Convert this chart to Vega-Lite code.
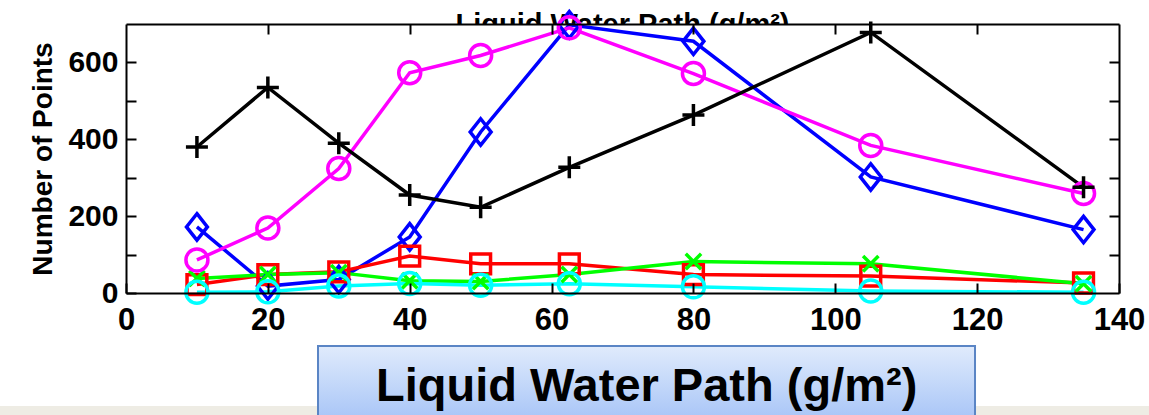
{
  "$schema": "https://vega.github.io/schema/vega-lite/v6.json",
  "autosize": {"type": "none"},
  "width": 993,
  "height": 269,
  "padding": {"left": 126, "top": 24, "right": 30, "bottom": 122},
  "background": "white",
  "view": {"stroke": null},
  "data": {
    "values": [
      {"lwp": 10, "count": 172, "series": "blue"},
      {"lwp": 20, "count": 18, "series": "blue"},
      {"lwp": 30, "count": 35, "series": "blue"},
      {"lwp": 40, "count": 146, "series": "blue"},
      {"lwp": 50, "count": 419, "series": "blue"},
      {"lwp": 62.5, "count": 698, "series": "blue"},
      {"lwp": 80, "count": 655, "series": "blue"},
      {"lwp": 105, "count": 302, "series": "blue"},
      {"lwp": 135, "count": 165, "series": "blue"},
      {"lwp": 10, "count": 22, "series": "red"},
      {"lwp": 20, "count": 48, "series": "red"},
      {"lwp": 30, "count": 55, "series": "red"},
      {"lwp": 40, "count": 96, "series": "red"},
      {"lwp": 50, "count": 76, "series": "red"},
      {"lwp": 62.5, "count": 76, "series": "red"},
      {"lwp": 80, "count": 48, "series": "red"},
      {"lwp": 105, "count": 44, "series": "red"},
      {"lwp": 135, "count": 26, "series": "red"},
      {"lwp": 10, "count": 38, "series": "green"},
      {"lwp": 20, "count": 48, "series": "green"},
      {"lwp": 30, "count": 53, "series": "green"},
      {"lwp": 40, "count": 32, "series": "green"},
      {"lwp": 50, "count": 30, "series": "green"},
      {"lwp": 62.5, "count": 48, "series": "green"},
      {"lwp": 80, "count": 82, "series": "green"},
      {"lwp": 105, "count": 76, "series": "green"},
      {"lwp": 135, "count": 24, "series": "green"},
      {"lwp": 10, "count": 2, "series": "cyan"},
      {"lwp": 20, "count": 3, "series": "cyan"},
      {"lwp": 30, "count": 18, "series": "cyan"},
      {"lwp": 40, "count": 25, "series": "cyan"},
      {"lwp": 50, "count": 20, "series": "cyan"},
      {"lwp": 62.5, "count": 24, "series": "cyan"},
      {"lwp": 80, "count": 16, "series": "cyan"},
      {"lwp": 105, "count": 5, "series": "cyan"},
      {"lwp": 135, "count": 2, "series": "cyan"},
      {"lwp": 10, "count": 86, "series": "magenta"},
      {"lwp": 20, "count": 169, "series": "magenta"},
      {"lwp": 30, "count": 324, "series": "magenta"},
      {"lwp": 40, "count": 573, "series": "magenta"},
      {"lwp": 50, "count": 618, "series": "magenta"},
      {"lwp": 62.5, "count": 690, "series": "magenta"},
      {"lwp": 80, "count": 571, "series": "magenta"},
      {"lwp": 105, "count": 384, "series": "magenta"},
      {"lwp": 135, "count": 259, "series": "magenta"},
      {"lwp": 10, "count": 380, "series": "black"},
      {"lwp": 20, "count": 535, "series": "black"},
      {"lwp": 30, "count": 390, "series": "black"},
      {"lwp": 40, "count": 255, "series": "black"},
      {"lwp": 50, "count": 223, "series": "black"},
      {"lwp": 62.5, "count": 327, "series": "black"},
      {"lwp": 80, "count": 463, "series": "black"},
      {"lwp": 105, "count": 678, "series": "black"},
      {"lwp": 135, "count": 275, "series": "black"}
    ]
  },
  "layer": [
    {
      "data": {"values": [{}]},
      "mark": {"type": "text", "text": "Liquid Water Path (g/m²)", "font": "Liberation Sans", "fontWeight": "bold", "fontSize": 29, "baseline": "alphabetic", "align": "center", "color": "#000000"},
      "encoding": {
        "x": {"datum": 70, "type": "quantitative", "scale": {"domain": [0, 140], "nice": false, "zero": false}, "axis": null},
        "y": {"datum": 674, "type": "quantitative", "scale": {"domain": [0, 700], "nice": false, "zero": false}, "axis": null}
      }
    },
    {
      "data": {"values": [{}]},
      "mark": {"type": "rect", "fill": "white"},
      "encoding": {
        "x": {"datum": 0, "type": "quantitative", "axis": null},
        "x2": {"datum": 140},
        "y": {"datum": 0, "type": "quantitative", "axis": null},
        "y2": {"datum": 700}
      }
    },
    {
      "data": {"values": [{}]},
      "mark": {"type": "rect", "fill": "#eeece4"},
      "encoding": {
        "x": {"datum": -20, "type": "quantitative", "axis": null},
        "x2": {"datum": 146},
        "y": {"datum": -294, "type": "quantitative", "axis": null},
        "y2": {"datum": -340}
      }
    },
    {
      "data": {"values": [{}]},
      "mark": {"type": "rect", "stroke": "#5a85c5", "strokeWidth": 2, "fill": {"gradient": "linear", "x1": 0, "y1": 0, "x2": 0, "y2": 1, "stops": [{"offset": 0, "color": "#e0ebfc"}, {"offset": 1, "color": "#a8c5f7"}]}},
      "encoding": {
        "x": {"datum": 27.07, "type": "quantitative", "axis": null},
        "x2": {"datum": 119.7},
        "y": {"datum": -137.9, "type": "quantitative", "axis": null},
        "y2": {"datum": -330}
      }
    },
    {
      "data": {"values": [{}]},
      "mark": {"type": "text", "text": "Liquid Water Path (g/m²)", "font": "Liberation Sans", "fontWeight": "bold", "fontSize": 47, "baseline": "middle", "align": "center", "color": "#000000"},
      "encoding": {
        "x": {"datum": 73.4, "type": "quantitative", "axis": null},
        "y": {"datum": -245, "type": "quantitative", "axis": null}
      }
    },
    {
      "mark": {"type": "line", "strokeWidth": 3.5},
      "encoding": {
        "x": {
          "field": "lwp", "type": "quantitative",
          "axis": {"orient": "bottom", "values": [0, 20, 40, 60, 80, 100, 120, 140], "title": null, "zindex": 1,
            "labelFont": "Liberation Sans", "labelFontWeight": "bold", "labelFontSize": 31, "labelColor": "#000000",
            "tickSize": -10, "tickWidth": 2, "tickColor": "#000000", "labelPadding": 22,
            "domainColor": "#000000", "domainWidth": 2, "grid": false, "labelFlush": false, "labelOverlap": false}
        },
        "y": {
          "field": "count", "type": "quantitative",
          "axis": {"orient": "left", "values": [0, 100, 200, 300, 400, 500, 600], "labelExpr": "datum.value % 200 == 0 ? datum.label : ''",
            "title": "Number of Points", "titleFont": "Liberation Sans", "titleFontWeight": "bold", "titleFontSize": 28, "titleColor": "#000000", "titlePadding": 10,
            "zindex": 1, "labelFont": "Liberation Sans", "labelFontWeight": "bold", "labelFontSize": 30, "labelColor": "#000000",
            "tickSize": -10, "tickWidth": 2, "tickColor": "#000000", "labelPadding": 18,
            "domainColor": "#000000", "domainWidth": 2, "grid": false, "labelFlush": false, "labelOverlap": false}
        },
        "color": {"field": "series", "type": "nominal", "legend": null,
          "scale": {"domain": ["blue", "red", "green", "cyan", "magenta", "black"], "range": ["#0000ff", "#ff0000", "#00ff00", "#00ffff", "#ff00ff", "#000000"]}}
      }
    },
    {
      "mark": {"type": "point", "filled": false, "strokeWidth": 3.5, "size": 484, "opacity": 1},
      "encoding": {
        "x": {
          "field": "lwp", "type": "quantitative",
          "axis": {"orient": "top", "values": [20, 40, 60, 80, 100, 120], "title": null, "labels": false, "zindex": 1,
            "tickSize": -10, "tickWidth": 2, "tickColor": "#000000", "domainColor": "#000000", "domainWidth": 2, "grid": false}
        },
        "y": {
          "field": "count", "type": "quantitative",
          "axis": {"orient": "right", "values": [100, 200, 300, 400, 500, 600], "title": null, "labels": false, "zindex": 1,
            "tickSize": -10, "tickWidth": 2, "tickColor": "#000000", "domainColor": "#000000", "domainWidth": 2, "grid": false}
        },
        "color": {"field": "series", "type": "nominal", "legend": null},
        "shape": {"field": "series", "type": "nominal", "legend": null,
          "scale": {"domain": ["blue", "red", "green", "cyan", "magenta", "black"],
            "range": ["M0,-1.2L0.95,0L0,1.2L-0.95,0Z", "M-0.9,-0.9L0.9,-0.9L0.9,0.9L-0.9,0.9Z", "M-0.7,-0.7L0.7,0.7M-0.7,0.7L0.7,-0.7", "circle", "circle", "M-1,0L1,0M0,-1L0,1"]}}
      }
    }
  ],
  "resolve": {"axis": {"x": "independent", "y": "independent"}}
}
